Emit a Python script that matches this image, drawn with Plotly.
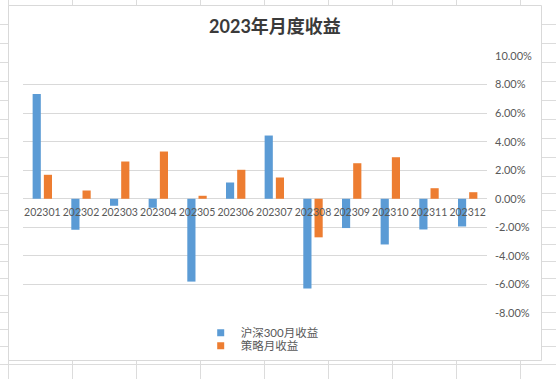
import plotly.graph_objects as go

# ---------------- data ----------------
months = ["202301", "202302", "202303", "202304", "202305", "202306",
          "202307", "202308", "202309", "202310", "202311", "202312"]
hs300_monthly = [0.0734, -0.0217, -0.0049, -0.0063, -0.0580, 0.0114,
                 0.0443, -0.0629, -0.0205, -0.0320, -0.0215, -0.0194]
strategy_monthly = [0.0168, 0.0058, 0.0261, 0.0331, 0.0021, 0.0203,
                    0.0149, -0.0270, 0.0249, 0.0291, 0.0074, 0.0046]
series_names = ["沪深300月收益", "策略月收益"]
y_tick_vals = [-0.08, -0.06, -0.04, -0.02, 0.0, 0.02, 0.04, 0.06, 0.08, 0.10]
y_tick_text = ["-8.00%", "-6.00%", "-4.00%", "-2.00%", "0.00%",
               "2.00%", "4.00%", "6.00%", "8.00%", "10.00%"]
chart_title = "2023年月度收益"

# ---------------- style / layout ----------------
W, H = 556, 379
ML, MR, MT, MB = 23, 69, 56, 66
PW, PH = W - ML - MR, H - MT - MB
BLUE, ORANGE = "#5B9BD5", "#ED7D31"
GRID = "#D9D9D9"
SHEET = "#DCDCDC"
TXT = "#595959"
FONT = "Lato, 'Noto Sans CJK SC', sans-serif"


def fx(px):
    return (px - ML) / PW


def fy(py):
    return (H - MB - py) / PH


# spreadsheet background grid (decoration)
sheet_cols = [8.5, 72.5, 136.5, 200.5, 264.5, 328.5, 392.5, 456.5, 520.5]
sheet_rows = [24.5, 43.5, 62.5, 81.5, 100.5, 119.5, 138.5, 157.5, 176.5,
              193.5, 210.5, 227.5, 244.5, 261.5, 278.5, 295.5, 312.5,
              329.5, 346.5, 364.5]
shapes = []
for c in sheet_cols:
    shapes.append(dict(type="line", xref="paper", yref="paper", layer="below",
                       x0=fx(c), x1=fx(c), y0=fy(0), y1=fy(H),
                       line=dict(color=SHEET, width=1)))
for r in sheet_rows:
    shapes.append(dict(type="line", xref="paper", yref="paper", layer="below",
                       x0=fx(0), x1=fx(W), y0=fy(r), y1=fy(r),
                       line=dict(color=SHEET, width=1)))
# chart area
shapes.append(dict(type="rect", xref="paper", yref="paper", layer="below",
                   x0=fx(8.5), x1=fx(541.5), y0=fy(5.5), y1=fy(360.5),
                   fillcolor="white", line=dict(color=GRID, width=1)))

fig = go.Figure()
fig.add_trace(go.Bar(x=months, y=hs300_monthly, name=series_names[0],
                     marker=dict(color=BLUE, line=dict(width=0)), showlegend=False))
fig.add_trace(go.Bar(x=months, y=strategy_monthly, name=series_names[1],
                     marker=dict(color=ORANGE, line=dict(width=0)), showlegend=False))
# legend entries (small square keys, like the original)
fig.add_trace(go.Scatter(x=[None], y=[None], mode="markers", name=series_names[0],
                         marker=dict(symbol="square", size=7, color=BLUE),
                         legend="legend"))
fig.add_trace(go.Scatter(x=[None], y=[None], mode="markers", name=series_names[1],
                         marker=dict(symbol="square", size=7, color=ORANGE),
                         legend="legend2"))

legend_common = dict(xanchor="left", yanchor="middle", bgcolor="rgba(0,0,0,0)",
                     borderwidth=0, font=dict(family=FONT, size=11.5, color=TXT),
                     itemclick=False, itemdoubleclick=False)

fig.update_layout(
    width=W, height=H,
    margin=dict(l=ML, r=MR, t=MT, b=MB, autoexpand=False),
    paper_bgcolor="white", plot_bgcolor="white",
    barmode="group", bargap=0.42, bargroupgap=0.27,
    title=dict(text=chart_title, x=275 / W, xanchor="center", xref="container",
               y=1 - 26.5 / H, yanchor="middle", yref="container",
               font=dict(family=FONT, size=18, color="#3A3A3A", weight="bold")),
    xaxis=dict(type="category", anchor="free", position=0.08 / 0.18,
               showgrid=False, showline=False, zeroline=False, ticks="",
               tickangle=0, ticklabelstandoff=6,
               tickfont=dict(family=FONT, size=10.5, color=TXT),
               fixedrange=True),
    yaxis=dict(side="right", range=[-0.08, 0.10], tickvals=y_tick_vals,
               ticktext=y_tick_text, showgrid=True, gridcolor=GRID, gridwidth=1,
               zeroline=True, zerolinecolor=GRID, zerolinewidth=1,
               showline=False, ticks="", ticklabelstandoff=7,
               tickfont=dict(family=FONT, size=11, color=TXT), fixedrange=True),
    legend=dict(x=fx(240.7 - 40), y=fy(332.8), **legend_common),
    legend2=dict(x=fx(240.7 - 40), y=fy(345.8), **legend_common),
    shapes=shapes,
)

fig.write_html("out.html",
               config={"displayModeBar": False},
               post_script="document.body.style.margin='0px';"
                           "document.body.style.padding='0px';")
